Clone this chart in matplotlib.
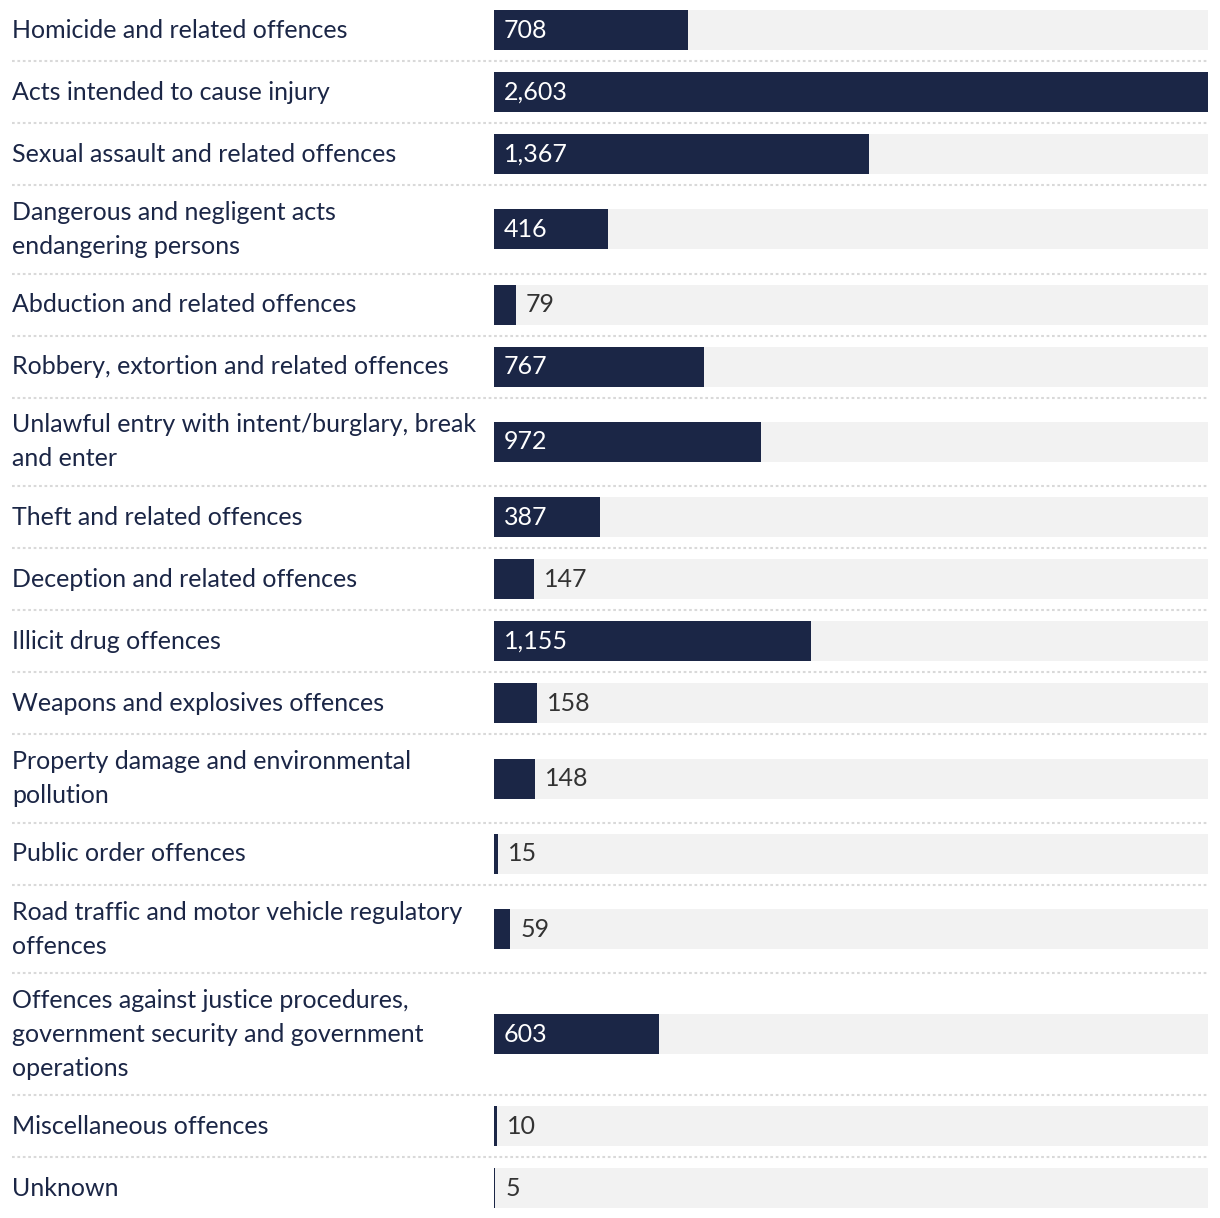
import matplotlib.pyplot as plt
import matplotlib.transforms as mtransforms
from matplotlib.lines import Line2D

categories = [
    "Homicide and related offences",
    "Acts intended to cause injury",
    "Sexual assault and related offences",
    "Dangerous and negligent acts\nendangering persons",
    "Abduction and related offences",
    "Robbery, extortion and related offences",
    "Unlawful entry with intent/burglary, break\nand enter",
    "Theft and related offences",
    "Deception and related offences",
    "Illicit drug offences",
    "Weapons and explosives offences",
    "Property damage and environmental\npollution",
    "Public order offences",
    "Road traffic and motor vehicle regulatory\noffences",
    "Offences against justice procedures,\ngovernment security and government\noperations",
    "Miscellaneous offences",
    "Unknown",
]
values = [708, 2603, 1367, 416, 79, 767, 972, 387, 147, 1155, 158, 148, 15, 59, 603, 10, 5]

W, H = 1220, 1218
NAVY = "#1b2646"
BG = "#f2f2f2"
FONT = "Lato"
FS = 18

fig = plt.figure(figsize=(W / 100, H / 100), dpi=100)
ax = fig.add_axes([494 / W, 0, (1208 - 494) / W, 1])
ax.set_xlim(0, max(values))
ax.set_ylim(H, 0)
ax.axis("off")

# row layout from number of label lines
line_h = 33.3
bar_h = 40
pad = 22
tops, centers = [], []
y = -1
for lab in categories:
    n = lab.count("\n") + 1
    h = max(bar_h, n * line_h) + pad
    tops.append(y)
    centers.append(y + h / 2)
    y += h

trans = mtransforms.blended_transform_factory(fig.transFigure, ax.transData)

ax.barh(centers, [max(values)] * len(values), height=bar_h, color=BG, zorder=1)
ax.barh(centers, values, height=bar_h, color=NAVY, zorder=2)

for i, (lab, v, c) in enumerate(zip(categories, values, centers)):
    ax.text(12 / W, c, lab, transform=trans, ha="left", va="center",
            fontsize=FS, family=FONT, color=NAVY, linespacing=1.58)
    txt = f"{v:,}"
    if v >= 300:
        ax.annotate(txt, (0, c), xytext=(10, 0), textcoords="offset pixels",
                    ha="left", va="center", fontsize=FS, family=FONT, color="white", zorder=3)
    else:
        ax.annotate(txt, (v, c), xytext=(10, 0), textcoords="offset pixels",
                    ha="left", va="center", fontsize=FS, family=FONT, color="#333333", zorder=3)
    if i > 0:
        fig.add_artist(Line2D([12 / W, 1208 / W], [tops[i], tops[i]], transform=trans,
                              color="#d9d9d9", lw=1.5, linestyle=(0, (1.3, 1.3))))

fig.savefig("out.png", dpi=100, facecolor="white")
